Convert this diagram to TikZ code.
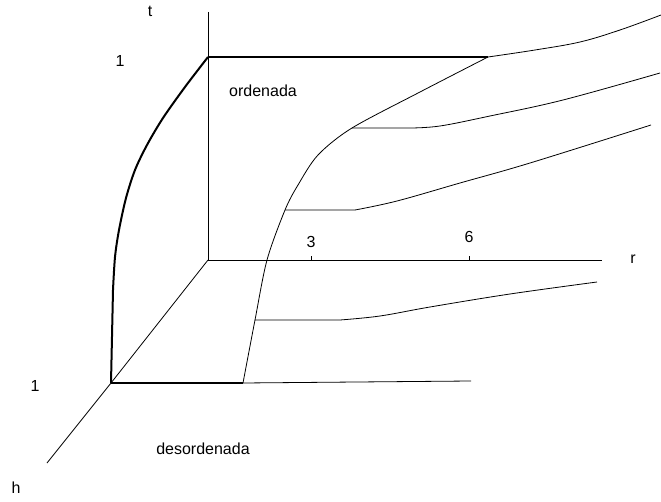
\documentclass[tikz,border=0pt]{standalone}
\usepackage{fontspec}
\setmainfont{Liberation Sans}
\begin{document}
\begin{tikzpicture}[x=1pt,y=1pt,
  thinline/.style={line width=0.8pt},
  thickline/.style={line width=2pt},
  lbl/.style={font=\fontsize{16}{19}\selectfont, inner sep=0pt}]
\useasboundingbox (0,0) rectangle (661,-502);
% axes points
\coordinate (ob) at (208,-260);
\coordinate (of) at (111,-383);
\coordinate (ttop) at (208,-12);
\coordinate (tone) at (208,-57);
\coordinate (rend) at (602,-260);
\coordinate (hend) at (47,-463);
\coordinate (fc) at (243,-383);
\coordinate (fend) at (471,-381);
\coordinate (tc) at (488,-57);
\coordinate (t3) at (311,-260);
\coordinate (t6) at (469,-260);
\coordinate (p2) at (352,-128);
\coordinate (p3) at (285,-210);
\coordinate (p4) at (255,-320);
% axes
\draw[thinline] (ttop) -- (ob) -- (rend);
\draw[thinline] (ob) -- (of) -- (hend);
\draw[thinline] (t3) -- ++(0,4);
\draw[thinline] (t6) -- ++(0,4);
% thick boundaries
\draw[thickline] (tone) -- (tc);
\draw[thickline] (of) -- (fc);
\draw[thickline] plot[smooth, tension=0.5] coordinates {(208,-57) (185,-87) (163,-118) (147,-145) (135,-170) (126,-198) (119,-230) (115,-257) (113,-290)} -- (111,-383);
% thin front line
\draw[thinline] (fc) -- (fend);
% main phase curve
\draw[thinline] plot[smooth, tension=0.5] coordinates {(243,-383) (255,-320) (267,-260) (285,-210) (298,-185) (318,-155) (352,-128) (420,-92) (488,-57)};
% top curve
\draw[thinline] plot[smooth, tension=0.6] coordinates {(488,-57) (535,-50) (580,-42) (620,-30) (661,-15)};
% curve 2
\draw[thinline] (p2) -- (410,-128) plot[smooth, tension=0.6] coordinates {(410,-128) (440,-126) (490,-116) (563,-100) (660,-73)};
% curve 3
\draw[thinline] (p3) -- (355,-210) plot[smooth, tension=0.6] coordinates {(355,-210) (397,-201) (460,-183) (530,-163) (651,-125)};
% curve 4
\draw[thinline] (p4) -- (340,-320) plot[smooth, tension=0.6] coordinates {(340,-320) (380,-316) (430,-307) (510,-294) (597,-282)};
% labels
\node[lbl] (lt) at (150,-11) {t};
\node[lbl] (l1a) at (120,-61) {1};
\node[lbl] (l1b) at (35,-386) {1};
\node[lbl] (lh) at (16,-488) {h};
\node[lbl] (lr) at (633,-259) {r};
\node[lbl] (l3) at (311,-242) {3};
\node[lbl] (l6) at (469,-237) {6};
\node[lbl] (ord) at (263,-91) {ordenada};
\node[lbl] (des) at (203,-449) {desordenada};
\end{tikzpicture}
\end{document}
